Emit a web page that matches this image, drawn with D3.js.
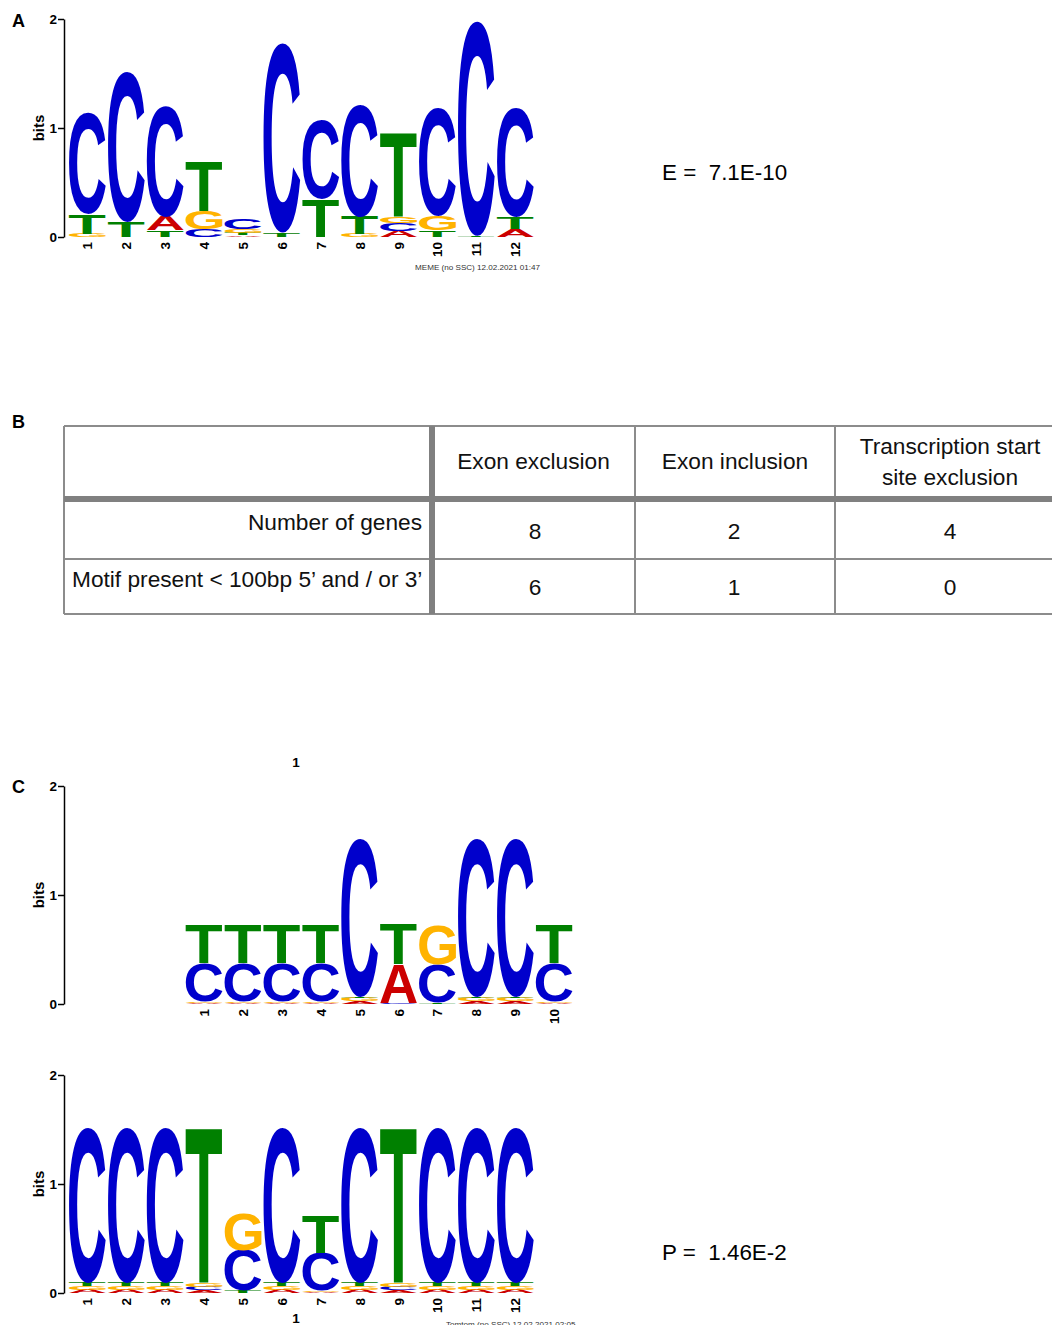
<!DOCTYPE html>
<html>
<head>
<meta charset="utf-8">
<script src="https://cdn.jsdelivr.net/npm/d3@7"></script>
<style>
  body { margin: 0; background: #fff; }
  svg { display: block; }
  text { font-family: "Liberation Sans", Arial, Helvetica, sans-serif; }
</style>
</head>
<body>
<div id="fig"></div>
<script>
// DATA
// each column is a stack of [letter, bits], listed bottom -> top
const motifA = [
    [["G", 0.03], ["T", 0.18], ["C", 0.93]],
    [["T", 0.14], ["C", 1.38]],
    [["T", 0.06], ["A", 0.13], ["C", 1.02]],
    [["C", 0.07], ["G", 0.17], ["T", 0.45]],
    [["A", 0.015], ["T", 0.02], ["G", 0.04], ["C", 0.09]],
    [["T", 0.04], ["C", 1.74]],
    [["T", 0.35], ["C", 0.72]],
    [["G", 0.03], ["T", 0.16], ["C", 1.03]],
    [["A", 0.055], ["C", 0.07], ["G", 0.06], ["T", 0.77]],
    [["T", 0.06], ["G", 0.13], ["C", 0.99]],
    [["T", 0.01], ["C", 1.97]],
    [["A", 0.07], ["T", 0.11], ["C", 1.0]]
];
const targetMotif = [
    [["A", 0.012], ["G", 0.012], ["C", 0.35], ["T", 0.36]],
    [["A", 0.012], ["G", 0.012], ["C", 0.35], ["T", 0.36]],
    [["A", 0.012], ["G", 0.012], ["C", 0.35], ["T", 0.36]],
    [["A", 0.012], ["G", 0.012], ["C", 0.35], ["T", 0.36]],
    [["A", 0.025], ["G", 0.03], ["T", 0.01], ["C", 1.455]],
    [["C", 0.008], ["A", 0.36], ["T", 0.37]],
    [["T", 0.01], ["C", 0.355], ["G", 0.365]],
    [["A", 0.025], ["G", 0.03], ["T", 0.01], ["C", 1.455]],
    [["A", 0.025], ["G", 0.03], ["T", 0.01], ["C", 1.455]],
    [["A", 0.012], ["G", 0.012], ["C", 0.35], ["T", 0.36]]
];
const queryMotif = [
    [["A", 0.03], ["G", 0.03], ["T", 0.03], ["C", 1.43]],
    [["A", 0.03], ["G", 0.03], ["T", 0.03], ["C", 1.43]],
    [["A", 0.03], ["G", 0.03], ["T", 0.03], ["C", 1.43]],
    [["A", 0.025], ["C", 0.03], ["G", 0.035], ["T", 1.43]],
    [["T", 0.02], ["C", 0.37], ["G", 0.34]],
    [["A", 0.03], ["G", 0.03], ["T", 0.03], ["C", 1.43]],
    [["A", 0.01], ["G", 0.01], ["C", 0.35], ["T", 0.35]],
    [["A", 0.03], ["G", 0.03], ["T", 0.03], ["C", 1.43]],
    [["A", 0.025], ["C", 0.03], ["G", 0.035], ["T", 1.43]],
    [["A", 0.03], ["G", 0.03], ["T", 0.03], ["C", 1.43]],
    [["A", 0.03], ["G", 0.03], ["T", 0.03], ["C", 1.43]],
    [["A", 0.03], ["G", 0.03], ["T", 0.03], ["C", 1.43]]
];
const targetOffset = 3;
const bitTicks = [0, 1, 2];

// table
const tableHeaders = [[""], ["Exon exclusion"], ["Exon inclusion"], ["Transcription start", "site exclusion"]];
const rowLabels = ["Number of genes", "Motif present < 100bp 5\u2019 and / or 3\u2019"];
const exonExclusion = [8, 6];
const exonInclusion = [2, 1];
const tssExclusion = [4, 0];

const eValue = "E =  7.1E-10";
const pValue = "P =  1.46E-2";

// GRAPH CONSTANTS
const W = 1052, H = 1325;
const colW = 38.9;
const x0 = 68;
const axisX = 64;
const bitPx = 109;
const letterColor = { A: "#CC0000", C: "#0000CC", G: "#FFB300", T: "#008000" };
const logoFont = "'Liberation Sans', Arial, Helvetica, sans-serif";
const tableSize = 22.7;

// glyph ink boxes, measured once
const ctx = document.createElement("canvas").getContext("2d");
ctx.font = "bold 100px " + logoFont;
const ink = {};
"ACGT".split("").forEach(l => {
    const m = ctx.measureText(l);
    ink[l] = {
        x0: -m.actualBoundingBoxLeft, x1: m.actualBoundingBoxRight,
        y0: -m.actualBoundingBoxAscent, y1: m.actualBoundingBoxDescent
    };
});

// SCALES
const xScale = d3.scaleBand()
    .domain(d3.range(1, 14))
    .range([x0, x0 + 13 * colW]);

const svg = d3.select("#fig").append("svg")
    .attr("width", W)
    .attr("height", H);

function drawLogo(motif, offset, yZero) {
    const yScale = d3.scaleLinear().domain([0, 2]).range([yZero, yZero - 2 * bitPx]);
    const g = svg.append("g");

    // y axis
    const yAxis = d3.axisLeft(yScale)
        .tickValues(bitTicks)
        .tickFormat(d3.format("d"))
        .tickSize(6).tickSizeOuter(0).tickPadding(1);
    const ax = g.append("g").attr("transform", `translate(${axisX},0)`).call(yAxis);
    ax.select(".domain").attr("stroke-width", 1.5);
    ax.selectAll(".tick line").attr("stroke-width", 1.5);
    ax.selectAll(".tick text")
        .attr("font-size", 13.5).attr("font-weight", "bold")
        .attr("font-family", logoFont).attr("fill", "#000");
    g.append("text")
        .attr("transform", `translate(44,${yScale(1)}) rotate(-90)`)
        .attr("text-anchor", "middle")
        .attr("font-size", 15).attr("font-weight", "bold")
        .text("bits");

    // letters
    motif.forEach((stack, i) => {
        const pos = i + 1 + offset;
        const bw = colW * 0.95;
        const bx = xScale(pos) + (colW - bw) / 2;
        let base = 0;
        stack.forEach(([letter, h]) => {
            const top = yScale(base + h), bottom = yScale(base);
            base += h;
            const bh = bottom - top;
            if (bh <= 0) return;
            const b = ink[letter];
            const sx = bw / (b.x1 - b.x0), sy = bh / (b.y1 - b.y0);
            g.append("text")
                .attr("transform", `translate(${bx},${top}) scale(${sx},${sy}) translate(${-b.x0},${-b.y0})`)
                .attr("font-size", 100).attr("font-weight", "bold")
                .attr("fill", letterColor[letter])
                .text(letter);
        });
        // position label
        g.append("text")
            .attr("transform", `translate(${xScale(pos) + colW / 2},${yZero + 5}) rotate(-90)`)
            .attr("text-anchor", "end")
            .attr("dy", "0.36em")
            .attr("font-size", 13.5).attr("font-weight", "bold")
            .text(i + 1);
    });
    return yScale;
}

// PANEL A
drawLogo(motifA, 0, 237);
svg.append("text").attr("x", 415).attr("y", 270).attr("font-size", 8.1).attr("fill", "#333")
    .text("MEME (no SSC) 12.02.2021 01:47");
svg.append("text").attr("x", 662).attr("y", 180).attr("font-size", 22.4).style("white-space", "pre")
    .text(eValue);

// PANEL C
drawLogo(targetMotif, targetOffset, 1004);
drawLogo(queryMotif, 0, 1293);
const titleX = 296;
svg.append("text").attr("x", titleX).attr("y", 767).attr("text-anchor", "middle")
    .attr("font-size", 13.5).attr("font-weight", "bold").text("1");
svg.append("text").attr("x", titleX).attr("y", 1323).attr("text-anchor", "middle")
    .attr("font-size", 13.5).attr("font-weight", "bold").text("1");
svg.append("text").attr("x", 446).attr("y", 1327).attr("font-size", 8.1).attr("fill", "#333")
    .text("Tomtom (no SSC) 12.02.2021 02:05");
svg.append("text").attr("x", 662).attr("y", 1260).attr("font-size", 22.4).style("white-space", "pre")
    .text(pValue);

// PANEL LABELS
[["A", 27], ["B", 428], ["C", 793]].forEach(([t, y]) => {
    svg.append("text").attr("x", 12).attr("y", y)
        .attr("font-size", 18).attr("font-weight", "bold").text(t);
});

// TABLE (B)
const colEdges = [64, 432, 635, 835, 1065];
const tbl = svg.append("g");
const thin = "#8c8c8c", thick = "#808080";
// thin lines
[426, 559, 614].forEach(y => tbl.append("line")
    .attr("x1", 64).attr("x2", W).attr("y1", y).attr("y2", y)
    .attr("stroke", thin).attr("stroke-width", 2));
[64, 635, 835].forEach(x => tbl.append("line")
    .attr("x1", x).attr("x2", x).attr("y1", 426).attr("y2", 614)
    .attr("stroke", thin).attr("stroke-width", 2));
// thick dividers
tbl.append("line").attr("x1", 64).attr("x2", W).attr("y1", 499).attr("y2", 499)
    .attr("stroke", thick).attr("stroke-width", 6);
tbl.append("line").attr("x1", 432).attr("x2", 432).attr("y1", 426).attr("y2", 614)
    .attr("stroke", thick).attr("stroke-width", 6);

// header text
tableHeaders.forEach((lines, c) => {
    if (c === 0) return;
    const cx = (colEdges[c] + colEdges[c + 1]) / 2;
    const n = lines.length;
    lines.forEach((line, k) => {
        tbl.append("text")
            .attr("x", cx)
            .attr("y", 469 + (k - (n - 1) / 2) * 31)
            .attr("text-anchor", "middle")
            .attr("font-size", tableSize).attr("fill", "#111")
            .text(line);
    });
});
// row labels
tbl.append("text").attr("x", 422).attr("y", 530).attr("text-anchor", "end")
    .attr("font-size", tableSize).attr("fill", "#111").text(rowLabels[0]);
tbl.append("text").attr("x", 72).attr("y", 587)
    .attr("font-size", tableSize).attr("fill", "#111").text(rowLabels[1]);
// values
[exonExclusion, exonInclusion, tssExclusion].forEach((vals, c) => {
    const cx = c === 0 ? 535 : c === 1 ? 734 : 950;
    vals.forEach((v, r) => {
        tbl.append("text")
            .attr("x", cx)
            .attr("y", r === 0 ? 539 : 595)
            .attr("text-anchor", "middle")
            .attr("font-size", tableSize).attr("fill", "#111")
            .text(v);
    });
});
</script>
</body>
</html>
